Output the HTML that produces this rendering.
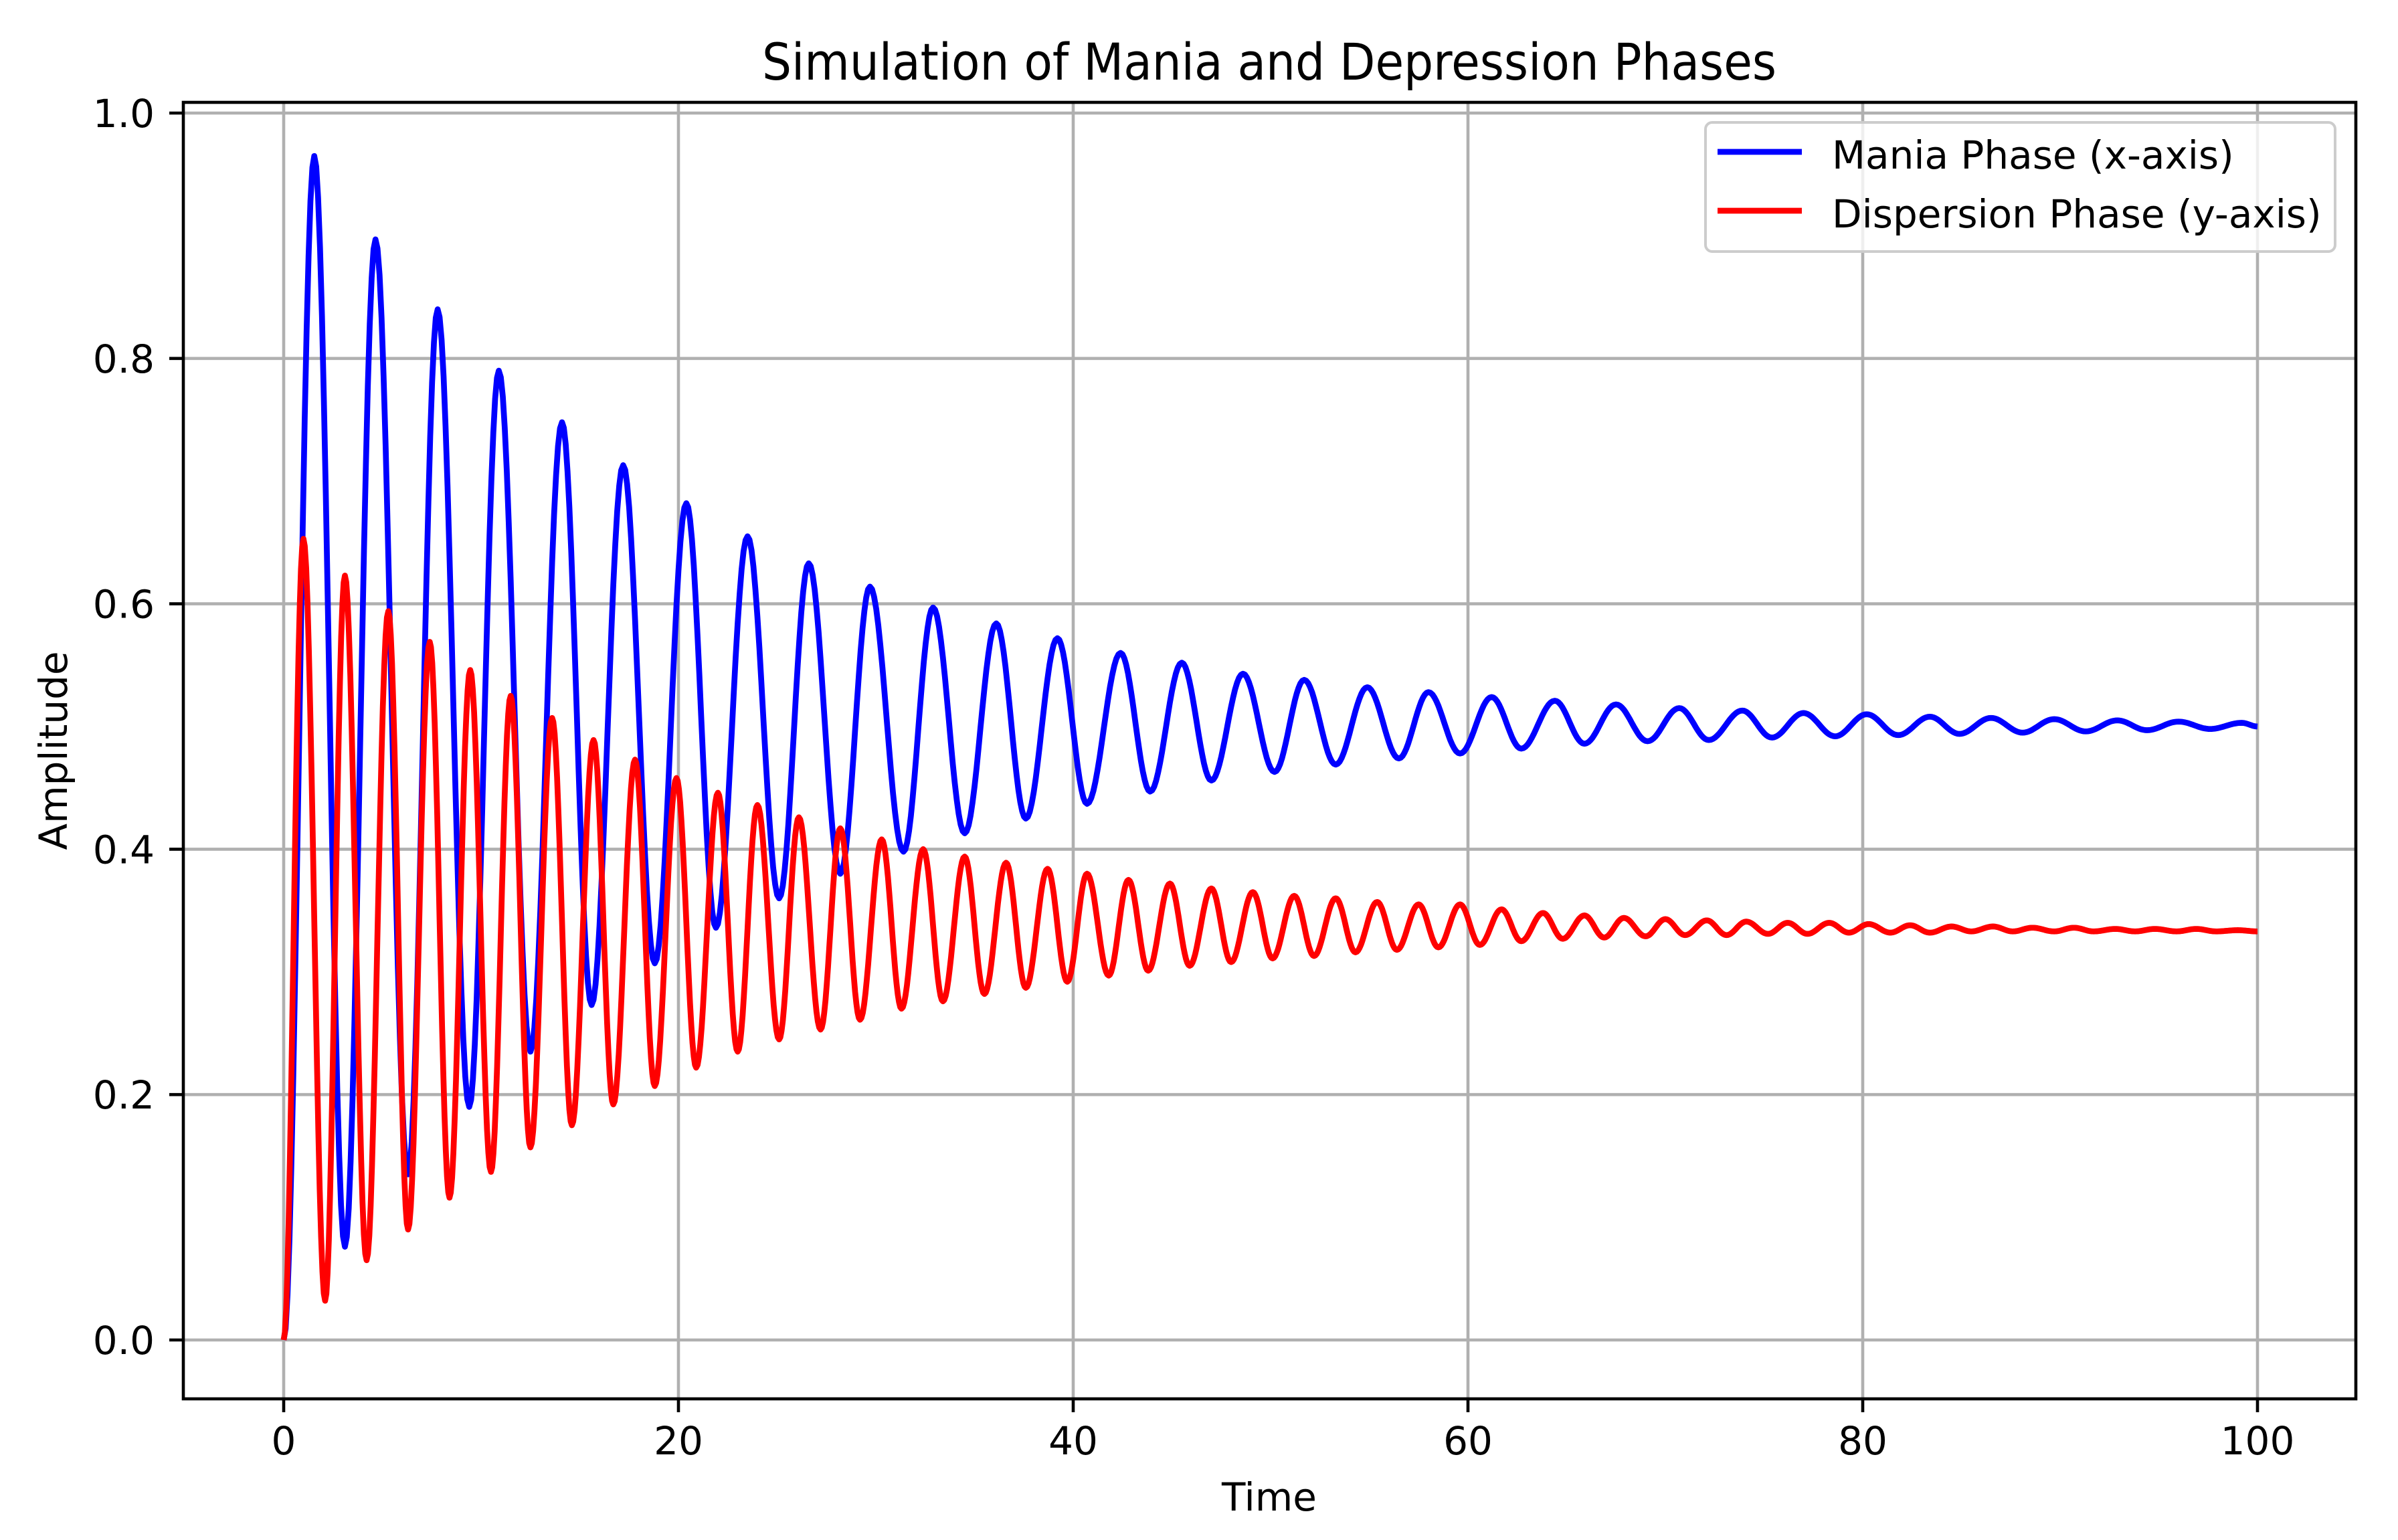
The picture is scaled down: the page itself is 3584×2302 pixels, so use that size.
<!DOCTYPE html>
<html><head><meta charset="utf-8"><style>
html,body{margin:0;padding:0;background:#fff}
svg{display:block}
text{font-family:"DejaVu Sans","Liberation Sans",sans-serif;fill:#000}
</style></head><body>
<svg id="chart" width="3584" height="2302" viewBox="0 0 3584 2302" xmlns="http://www.w3.org/2000/svg">
<rect width="3584" height="2302" fill="#fff"/>
<g id="grid"></g>
<g id="series" clip-path="url(#clip)"></g>
<defs><clipPath id="clip"><rect x="274" y="153" width="3247" height="1938"/></clipPath></defs>
<rect x="274" y="153" width="3247" height="1938" fill="none" stroke="#000" stroke-width="4.6"/>
<g id="ticks"></g>
<text x="1897" y="119" font-size="76" text-anchor="middle" textLength="1516" lengthAdjust="spacingAndGlyphs">Simulation of Mania and Depression Phases</text>
<text x="1897" y="2258" font-size="58" text-anchor="middle">Time</text>
<text x="0" y="0" font-size="58" text-anchor="middle" transform="translate(100,1122) rotate(-90)">Amplitude</text>
<g>
<rect x="2549" y="183" width="941" height="193" rx="10" fill="#fff" fill-opacity="0.8" stroke="#ccc" stroke-width="4"/>
<line x1="2567" y1="227" x2="2693" y2="227" stroke="#0000ff" stroke-width="8.7"/>
<text x="2738" y="252" font-size="58">Mania Phase (x-axis)</text>
<line x1="2567" y1="315" x2="2693" y2="315" stroke="#ff0000" stroke-width="8.7"/>
<text x="2738" y="340" font-size="58">Dispersion Phase (y-axis)</text>
</g>
</svg>
<script>
const xTicks = [0, 20, 40, 60, 80, 100];
const xTickLabels = ["0", "20", "40", "60", "80", "100"];
const yTicks = [0, 0.2, 0.4, 0.6, 0.8, 1.0];
const yTickLabels = ["0.0", "0.2", "0.4", "0.6", "0.8", "1.0"];

// Mania (blue) extrema: times and values
const maniaT = [0,1.55,3.1,4.65,6.3,7.8,9.4,10.9,12.5,14.1,15.6,17.2,18.8,20.4,21.9,23.5,25.1,26.6,28.2,29.7,31.4,32.9,34.5,36.1,37.6,39.2,40.7,42.4,43.9,45.5,47.0,48.6,50.2,51.7,53.3,54.9,56.5,58.0,59.6,61.2,62.7,64.4,65.9,67.5,69.1,70.7,72.2,73.9,75.4,77.0,78.6,80.2,81.8,83.4,84.9,86.5,88.1,89.7,91.3,92.9,94.4,96.0,97.6,99.2,100];
const maniaV = [0,0.965,0.076,0.897,0.135,0.84,0.19,0.79,0.235,0.748,0.273,0.713,0.307,0.682,0.336,0.655,0.36,0.633,0.38,0.614,0.398,0.597,0.413,0.584,0.425,0.572,0.437,0.56,0.447,0.552,0.456,0.543,0.463,0.538,0.469,0.532,0.474,0.528,0.478,0.524,0.482,0.521,0.486,0.518,0.488,0.515,0.489,0.513,0.491,0.511,0.492,0.51,0.493,0.508,0.494,0.507,0.495,0.506,0.496,0.505,0.497,0.504,0.498,0.503,0.5];

// Dispersion (red) extrema: times and values
const dispT = [0,1.0,2.1,3.1,4.2,5.3,6.3,7.4,8.4,9.45,10.5,11.5,12.5,13.6,14.6,15.7,16.7,17.8,18.8,19.9,20.9,22.0,23.0,24.0,25.1,26.1,27.2,28.2,29.2,30.3,31.3,32.4,33.4,34.5,35.5,36.6,37.6,38.7,39.7,40.7,41.8,42.8,43.8,44.9,45.9,47.0,48.0,49.1,50.1,51.2,52.2,53.3,54.3,55.4,56.4,57.5,58.5,59.6,60.6,61.7,62.7,63.8,64.8,65.9,66.9,67.9,69.0,70.0,71.0,72.1,73.1,74.1,75.2,76.2,77.2,78.3,79.3,80.3,81.4,82.4,83.4,84.5,85.5,86.6,87.6,88.6,89.7,90.7,91.7,92.8,93.8,94.8,95.9,96.9,97.9,99.0,100];
const dispV = [0,0.653,0.032,0.623,0.065,0.594,0.09,0.569,0.116,0.546,0.137,0.525,0.157,0.507,0.175,0.489,0.192,0.473,0.207,0.458,0.222,0.446,0.235,0.436,0.245,0.426,0.253,0.417,0.261,0.408,0.27,0.4,0.276,0.394,0.282,0.389,0.287,0.384,0.292,0.38,0.297,0.375,0.301,0.372,0.305,0.368,0.308,0.365,0.311,0.362,0.313,0.36,0.316,0.357,0.318,0.355,0.32,0.355,0.322,0.351,0.325,0.348,0.327,0.346,0.328,0.344,0.329,0.343,0.33,0.342,0.33,0.341,0.331,0.34,0.331,0.34,0.332,0.339,0.332,0.338,0.332,0.337,0.333,0.337,0.333,0.336,0.333,0.336,0.333,0.335,0.333,0.335,0.333,0.335,0.333,0.334,0.333,0.332];

const NS = "http://www.w3.org/2000/svg";
function xScale(t){ return 424 + 29.5 * t; }
function yScale(v){ return 2003 - 1834 * v; }

const grid = document.getElementById('grid');
const ticks = document.getElementById('ticks');
function mk(tag, attrs, parent){
  const el = document.createElementNS(NS, tag);
  for (const k in attrs) el.setAttribute(k, attrs[k]);
  parent.appendChild(el);
  return el;
}
xTicks.forEach((t, i) => {
  const x = xScale(t);
  const g = mk('line', {x1:x, y1:153, x2:x, y2:2091, stroke:'#b0b0b0', 'stroke-width':4.6}, grid);
  
  
  const tk = mk('line', {x1:x, y1:2091, x2:x, y2:2111, stroke:'#000', 'stroke-width':4.6}, ticks);
  
  
  const lb = mk('text', {x:x, y:2174, 'font-size':58, 'text-anchor':'middle'}, ticks);
  lb.textContent = xTickLabels[i];
  
  
});
yTicks.forEach((v, i) => {
  const y = yScale(v);
  const g = mk('line', {x1:274, y1:y, x2:3521, y2:y, stroke:'#b0b0b0', 'stroke-width':4.6}, grid);
  
  
  const tk = mk('line', {x1:253, y1:y, x2:274, y2:y, stroke:'#000', 'stroke-width':4.6}, ticks);
  
  
  const lb = mk('text', {x:231, y:y+21, 'font-size':58, 'text-anchor':'end'}, ticks);
  lb.textContent = yTickLabels[i];
  
  
});

function buildPath(T, V){
  let d = 'M' + xScale(T[0]).toFixed(1) + ' ' + yScale(V[0]).toFixed(1);
  for (let i = 0; i < T.length - 1; i++){
    const n = 16;
    for (let k = 1; k <= n; k++){
      const f = k / n;
      const t = T[i] + (T[i+1] - T[i]) * f;
      const v = V[i] + (V[i+1] - V[i]) * (1 - Math.cos(Math.PI * f)) / 2;
      d += 'L' + xScale(t).toFixed(1) + ' ' + yScale(v).toFixed(1);
    }
  }
  return d;
}
const series = document.getElementById('series');
const pm = mk('path', {d:buildPath(maniaT, maniaV), fill:'none', stroke:'#0000ff', 'stroke-width':8.7, 'stroke-linejoin':'round'}, series);


const pd = mk('path', {d:buildPath(dispT, dispV), fill:'none', stroke:'#ff0000', 'stroke-width':8.7, 'stroke-linejoin':'round'}, series);


</script>
</body></html>
